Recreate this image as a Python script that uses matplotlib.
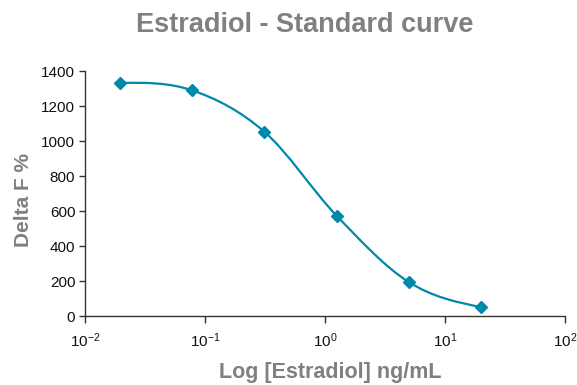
import numpy as np
import matplotlib
matplotlib.use("Agg")
import matplotlib.pyplot as plt
from matplotlib.path import Path
from matplotlib.patches import PathPatch
from matplotlib.ticker import NullLocator, FixedLocator

# Data: estradiol standards (4-fold dilution) and measured Delta F %
conc = [0.0195, 0.078, 0.3125, 1.25, 5.0, 20.0]
delta_f = [1332, 1290, 1053, 573, 194, 51]

x_ticks = [1e-2, 1e-1, 1e0, 1e1, 1e2]
y_ticks = [0, 200, 400, 600, 800, 1000, 1200, 1400]

line_color = "#0088AA"
gray = "#808080"
dark = "#333333"

plt.rcParams["font.family"] = ["Liberation Sans", "DejaVu Sans"]


# Smooth path through the points (cubic Bezier, like a spreadsheet "smoothed line")
def smooth_path(xs, ys):
    lx = np.log10(xs)
    pts = np.column_stack([lx, ys])
    n = len(pts)
    tang = np.zeros_like(pts)
    for i in range(1, n - 1):
        tang[i] = (pts[i + 1] - pts[i - 1]) / 2
    tang[0] = (3 * (pts[1] - pts[0]) - tang[1]) / 2
    tang[-1] = (3 * (pts[-1] - pts[-2]) - tang[-2]) / 2
    verts = [pts[0]]
    codes = [Path.MOVETO]
    for i in range(n - 1):
        verts += [pts[i] + tang[i] / 3, pts[i + 1] - tang[i + 1] / 3, pts[i + 1]]
        codes += [Path.CURVE4] * 3
    verts = np.array(verts)
    verts[:, 0] = 10 ** verts[:, 0]
    return Path(verts, codes)


fig = plt.figure(figsize=(5.77, 3.85), dpi=100)
ax = fig.add_axes([0.1473, 0.179, 0.832, 0.6364])

ax.add_patch(PathPatch(smooth_path(conc, delta_f), facecolor="none",
                       edgecolor=line_color, lw=1.6, zorder=2))
ax.plot(conc, delta_f, linestyle="none", marker="D", markersize=6.5,
        color=line_color, zorder=3)

ax.set_xscale("log")
ax.set_xlim(1e-2, 1e2)
ax.set_ylim(0, 1400)
ax.xaxis.set_major_locator(FixedLocator(x_ticks))
ax.xaxis.set_minor_locator(NullLocator())
ax.set_yticks(y_ticks)

for s in ["top", "right"]:
    ax.spines[s].set_visible(False)
for s in ["left", "bottom"]:
    ax.spines[s].set_color(dark)
    ax.spines[s].set_linewidth(1.0)

ax.tick_params(axis="y", direction="out", length=4, width=1, color=dark,
               labelsize=11, labelcolor="#111111", pad=3)
ax.tick_params(axis="x", direction="out", length=5, width=1, color=dark,
               labelsize=11, labelcolor="#111111", pad=6)

fig.text(0.528, 0.935, "Estradiol - Standard curve", ha="center", va="center",
         fontsize=19.5, fontweight="bold", color=gray)
fig.text(0.04, 0.48, "Delta F %", ha="center", va="center", rotation=90,
         fontsize=15, fontweight="bold", color=gray)
fig.text(0.572, 0.032, "Log [Estradiol] ng/mL", ha="center", va="center",
         fontsize=15.5, fontweight="bold", color=gray)

fig.savefig("out.png", dpi=100)
